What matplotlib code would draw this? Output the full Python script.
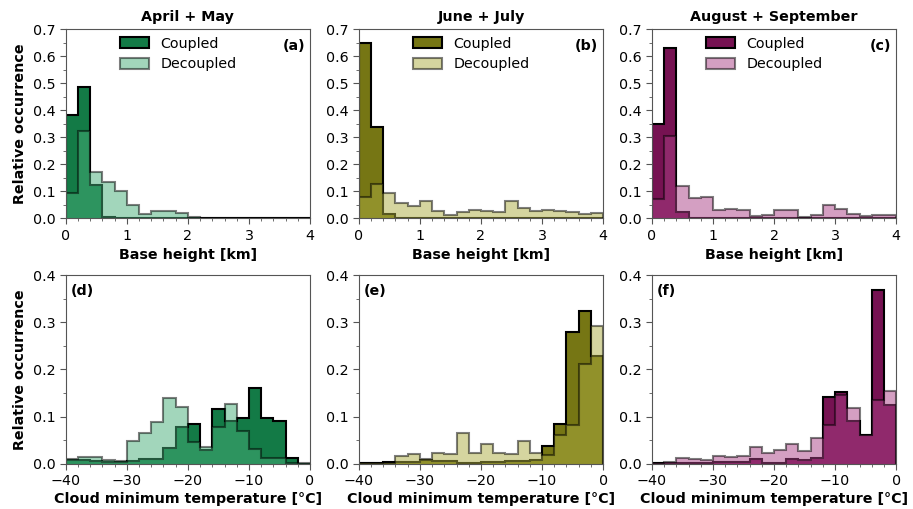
import matplotlib
matplotlib.use("Agg")
import matplotlib.pyplot as plt
from matplotlib.ticker import MultipleLocator
import numpy as np

# bin edges
height_edges = np.arange(0, 4.01, 0.2)
temp_edges = np.arange(-40, 0.01, 2)

# base height histograms (20 bins, 0-4 km)
apr_may_height_coupled = [0.383, 0.485, 0.123, 0.005, 0.001, 0, 0, 0, 0, 0,
                          0, 0, 0, 0, 0, 0, 0, 0, 0, 0]
apr_may_height_decoupled = [0.095, 0.323, 0.173, 0.133, 0.100, 0.049, 0.018, 0.028, 0.026, 0.021,
                            0.004, 0.002, 0.002, 0.001, 0.001, 0.001, 0.001, 0.001, 0.001, 0.003]
jun_jul_height_coupled = [0.651, 0.337, 0.015, 0.001, 0, 0, 0, 0, 0, 0,
                          0, 0, 0, 0, 0, 0, 0, 0, 0, 0]
jun_jul_height_decoupled = [0.080, 0.127, 0.093, 0.056, 0.047, 0.063, 0.027, 0.012, 0.022, 0.031,
                            0.027, 0.023, 0.064, 0.040, 0.028, 0.031, 0.026, 0.025, 0.015, 0.021]
aug_sep_height_coupled = [0.349, 0.632, 0.022, 0.001, 0, 0, 0, 0, 0, 0,
                          0, 0, 0, 0, 0, 0, 0, 0, 0, 0]
aug_sep_height_decoupled = [0.072, 0.306, 0.120, 0.075, 0.079, 0.032, 0.035, 0.031, 0.009, 0.014,
                            0.030, 0.030, 0.006, 0.012, 0.048, 0.035, 0.017, 0.010, 0.012, 0.012]

# cloud minimum temperature histograms (20 bins, -40-0 degC)
apr_may_temp_coupled = [0.007, 0.007, 0.006, 0.004, 0.004, 0.005, 0.010, 0.010, 0.034, 0.078,
                        0.085, 0.029, 0.117, 0.091, 0.097, 0.160, 0.097, 0.091, 0.013, 0.000]
apr_may_temp_decoupled = [0.011, 0.014, 0.014, 0.007, 0.006, 0.048, 0.066, 0.088, 0.139, 0.120,
                          0.047, 0.036, 0.078, 0.127, 0.069, 0.031, 0.012, 0.013, 0.002, 0.001]
jun_jul_temp_coupled = [0.001, 0.001, 0.004, 0.003, 0.003, 0.008, 0.006, 0.006, 0.002, 0.002,
                        0.003, 0.003, 0.005, 0.005, 0.007, 0.038, 0.084, 0.279, 0.323, 0.228]
jun_jul_temp_decoupled = [0.001, 0.001, 0.002, 0.016, 0.020, 0.010, 0.023, 0.020, 0.065, 0.022,
                          0.041, 0.022, 0.020, 0.048, 0.022, 0.018, 0.061, 0.081, 0.211, 0.291]
aug_sep_temp_coupled = [0.001, 0.001, 0.002, 0.002, 0.002, 0.003, 0.003, 0.004, 0.010, 0.001,
                        0.001, 0.011, 0.007, 0.013, 0.142, 0.153, 0.091, 0.061, 0.369, 0.124]
aug_sep_temp_decoupled = [0.002, 0.003, 0.013, 0.009, 0.007, 0.016, 0.014, 0.016, 0.035, 0.023,
                          0.029, 0.041, 0.026, 0.054, 0.082, 0.145, 0.119, 0.060, 0.135, 0.155]

titles = ['April + May', 'June + July', 'August + September']
panel_labels = ['(a)', '(b)', '(c)', '(d)', '(e)', '(f)']

# 颜色：耦合 / 解耦
coupled_colors = ['#137a46', '#767614', '#761252']
decoupled_colors = ['#47af79', '#adad41', '#ab4187']

height_coupled = [apr_may_height_coupled, jun_jul_height_coupled, aug_sep_height_coupled]
height_decoupled = [apr_may_height_decoupled, jun_jul_height_decoupled, aug_sep_height_decoupled]
temp_coupled = [apr_may_temp_coupled, jun_jul_temp_coupled, aug_sep_temp_coupled]
temp_decoupled = [apr_may_temp_decoupled, jun_jul_temp_decoupled, aug_sep_temp_decoupled]

plt.rcParams['font.family'] = ['DejaVu Sans']
plt.rcParams['font.size'] = 10.3

fig = plt.figure(figsize=(9.13, 5.09), dpi=100)

lefts = [0.072, 0.393, 0.714]
w = 0.2676
spine_col = '#555555'
fs = 10.3


def style_axes(ax):
    for s in ax.spines.values():
        s.set_color(spine_col)
    ax.tick_params(which='both', direction='out', colors=spine_col, labelcolor='black', labelsize=fs)
    ax.tick_params(which='major', length=4)
    ax.tick_params(which='minor', length=2)


for i in range(3):
    # 上排：云底高度
    ax = fig.add_axes([lefts[i], 0.571, w, 0.3713])
    ax.stairs(height_coupled[i], height_edges, fill=True, facecolor=coupled_colors[i],
              edgecolor='black', linewidth=1.5, label='Coupled')
    ax.stairs(height_decoupled[i], height_edges, fill=True, facecolor=decoupled_colors[i],
              edgecolor='black', linewidth=1.5, alpha=0.5, label='Decoupled')
    ax.set_xlim(0, 4)
    ax.set_ylim(0, 0.7)
    ax.xaxis.set_major_locator(MultipleLocator(1))
    ax.xaxis.set_minor_locator(MultipleLocator(0.2))
    ax.yaxis.set_major_locator(MultipleLocator(0.1))
    ax.yaxis.set_minor_locator(MultipleLocator(0.05))
    style_axes(ax)
    ax.set_xlabel('Base height [km]', fontweight='bold', fontsize=fs)
    ax.set_title(titles[i], fontweight='bold', fontsize=fs, pad=6)
    ax.text(0.98, 0.95, panel_labels[i], transform=ax.transAxes, ha='right', va='top',
            fontweight='bold', fontsize=fs)
    ax.legend(loc='upper left', bbox_to_anchor=(0.17, 1.03), frameon=False, fontsize=fs,
              handlelength=2.0, handleheight=0.8, labelspacing=0.45)
    if i == 0:
        ax.set_ylabel('Relative occurrence', fontweight='bold', fontsize=fs)

    # 下排：云最低温度
    ax2 = fig.add_axes([lefts[i], 0.089, w, 0.3707])
    ax2.stairs(temp_coupled[i], temp_edges, fill=True, facecolor=coupled_colors[i],
               edgecolor='black', linewidth=1.5)
    ax2.stairs(temp_decoupled[i], temp_edges, fill=True, facecolor=decoupled_colors[i],
               edgecolor='black', linewidth=1.5, alpha=0.5)
    ax2.set_xlim(-40, 0)
    ax2.set_ylim(0, 0.4)
    ax2.xaxis.set_major_locator(MultipleLocator(10))
    ax2.xaxis.set_minor_locator(MultipleLocator(2))
    ax2.yaxis.set_major_locator(MultipleLocator(0.1))
    ax2.yaxis.set_minor_locator(MultipleLocator(0.05))
    style_axes(ax2)
    ax2.set_xlabel('Cloud minimum temperature [°C]', fontweight='bold', fontsize=fs, labelpad=3)
    ax2.text(0.02, 0.95, panel_labels[i + 3], transform=ax2.transAxes, ha='left', va='top',
             fontweight='bold', fontsize=fs)
    if i == 0:
        ax2.set_ylabel('Relative occurrence', fontweight='bold', fontsize=fs)

fig.savefig('out.png', dpi=100)
